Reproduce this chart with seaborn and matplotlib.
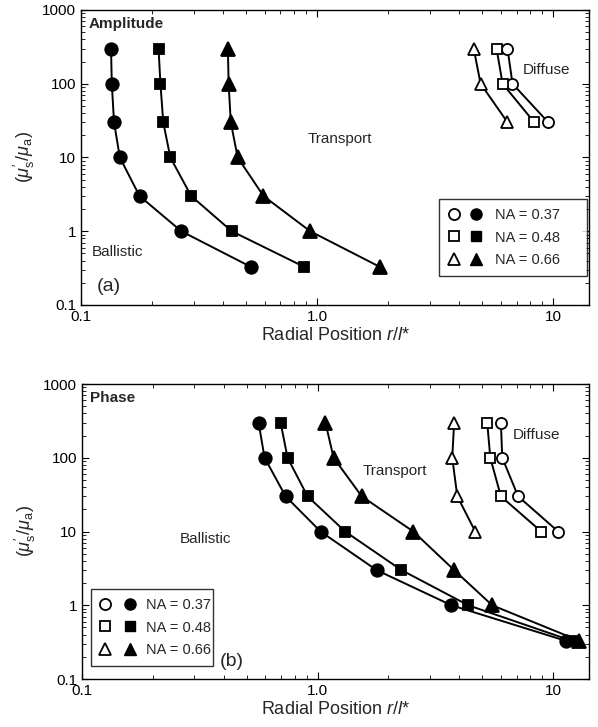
import matplotlib
matplotlib.use("Agg")
import matplotlib.pyplot as plt
import seaborn as sns
import numpy as np
import pandas as pd
from matplotlib.lines import Line2D
from matplotlib.legend_handler import HandlerTuple
from matplotlib.ticker import FixedLocator, FixedFormatter, LogLocator, NullFormatter

sns.set_theme(style="ticks")
plt.rcParams['font.family'] = ['Liberation Sans', 'DejaVu Sans']
plt.rcParams['mathtext.fontset'] = 'custom'
plt.rcParams['mathtext.rm'] = 'Liberation Sans'
plt.rcParams['mathtext.it'] = 'Liberation Sans:italic'

# y values (mu_s'/mu_a)
Y_FULL = [300, 100, 30, 10, 3, 1, 0.33]
Y_AMP_OPEN = [300, 100, 30]
Y_PH_OPEN = [300, 100, 30, 10]
NA_LABELS = ["NA = 0.37", "NA = 0.48", "NA = 0.66"]

# (a) Amplitude - radial position r/l*
amp_filled_037 = [0.134, 0.135, 0.138, 0.146, 0.177, 0.266, 0.523]
amp_filled_048 = [0.213, 0.217, 0.223, 0.239, 0.293, 0.435, 0.88]
amp_filled_066 = [0.419, 0.422, 0.431, 0.461, 0.593, 0.935, 1.84]
amp_open_037 = [6.41, 6.73, 9.53]
amp_open_048 = [5.76, 6.11, 8.32]
amp_open_066 = [4.61, 4.93, 6.41]

# (b) Phase
ph_filled_037 = [0.562, 0.596, 0.732, 1.03, 1.78, 3.70, 11.3]
ph_filled_048 = [0.697, 0.746, 0.907, 1.31, 2.27, 4.36, 12.0]
ph_filled_066 = [1.08, 1.17, 1.54, 2.55, 3.80, 5.51, 12.9]
ph_open_037 = [6.0, 6.08, 7.1, 10.5]
ph_open_048 = [5.25, 5.41, 6.0, 8.9]
ph_open_066 = [3.80, 3.73, 3.92, 4.67]

MARKERS = ['o', 's', '^']
MSIZE = {'o': 9, 's': 7.5, '^': 9.5}


def draw_series(ax, x, y, marker, filled):
    df = pd.DataFrame({'x': x, 'y': y})
    sns.lineplot(data=df, x='x', y='y', ax=ax, sort=False, estimator=None,
                 color='black', linewidth=1.4, marker=marker,
                 markersize=MSIZE[marker] if filled else MSIZE[marker] - 1,
                 markerfacecolor='black' if filled else 'white',
                 markeredgecolor='black', markeredgewidth=1.3)


def style_axes(ax):
    ax.set_xscale('log'); ax.set_yscale('log')
    ax.set_xlim(0.1, 14.2); ax.set_ylim(0.1, 1000)
    ax.xaxis.set_major_locator(FixedLocator([0.1, 1.0, 10]))
    ax.xaxis.set_major_formatter(FixedFormatter(['0.1', '1.0', '10']))
    ax.yaxis.set_major_locator(FixedLocator([0.1, 1, 10, 100, 1000]))
    ax.yaxis.set_major_formatter(FixedFormatter(['0.1', '1', '10', '100', '1000']))
    ax.xaxis.set_minor_locator(LogLocator(base=10, subs=np.arange(2, 10)))
    ax.yaxis.set_minor_locator(LogLocator(base=10, subs=np.arange(2, 10)))
    ax.xaxis.set_minor_formatter(NullFormatter())
    ax.yaxis.set_minor_formatter(NullFormatter())
    ax.tick_params(which='both', direction='in', top=True, right=True, colors='black',
                   labelsize=11)
    ax.tick_params(which='major', length=5, width=0.8)
    ax.tick_params(which='minor', length=3, width=0.6)
    for s in ax.spines.values():
        s.set_color('black'); s.set_linewidth(1.0)
    ax.set_xlabel(r'Radial Position $r$/$l$*', fontsize=13, labelpad=2)
    ax.set_ylabel(r"$(\mu^{\prime}_{\rm s}/\mu_{\rm a})$", fontsize=13, labelpad=4)


def add_legend(ax, bbox, pad):
    handles = []
    for m in MARKERS:
        h_open = Line2D([], [], marker=m, linestyle='none', color='black',
                        markerfacecolor='white', markersize=MSIZE[m] - 1, markeredgewidth=1.3)
        h_fill = Line2D([], [], marker=m, linestyle='none', color='black',
                        markerfacecolor='black', markersize=MSIZE[m] - 1)
        handles.append((h_open, h_fill))
    leg = ax.legend(handles, NA_LABELS, handler_map={tuple: HandlerTuple(ndivide=None, pad=pad)},
                    loc='lower left', bbox_to_anchor=bbox, bbox_transform=ax.transAxes,
                    mode='expand', borderaxespad=0,
                    frameon=True, fancybox=False, edgecolor='black', fontsize=10.5,
                    handlelength=2.4, labelspacing=0.6, borderpad=0.6, handletextpad=0.8)
    leg.get_frame().set_linewidth(1.0)


fig = plt.figure(figsize=(5.98, 7.27), dpi=100)
ax1 = fig.add_axes([0.1355, 0.5805, 0.8495, 0.4058])
ax2 = fig.add_axes([0.137, 0.066, 0.848, 0.4058])

# Panel (a)
for x, m in zip([amp_filled_037, amp_filled_048, amp_filled_066], MARKERS):
    draw_series(ax1, x, Y_FULL, m, True)
for x, m in zip([amp_open_037, amp_open_048, amp_open_066], MARKERS):
    draw_series(ax1, x, Y_AMP_OPEN, m, False)
style_axes(ax1)
ax1.text(0.014, 0.953, 'Amplitude', transform=ax1.transAxes, fontsize=11, fontweight='bold', va='center')
ax1.text(0.022, 0.18, 'Ballistic', transform=ax1.transAxes, fontsize=11, va='center')
ax1.text(0.03, 0.061, '(a)', transform=ax1.transAxes, fontsize=14, va='center')
ax1.text(0.447, 0.563, 'Transport', transform=ax1.transAxes, fontsize=11, va='center')
ax1.text(0.870, 0.797, 'Diffuse', transform=ax1.transAxes, fontsize=11, va='center')
add_legend(ax1, (0.705, 0.098, 0.291, 0.2), 0.6)

# Panel (b)
for x, m in zip([ph_filled_037, ph_filled_048, ph_filled_066], MARKERS):
    draw_series(ax2, x, Y_FULL, m, True)
for x, m in zip([ph_open_037, ph_open_048, ph_open_066], MARKERS):
    draw_series(ax2, x, Y_PH_OPEN, m, False)
style_axes(ax2)
ax2.text(0.016, 0.953, 'Phase', transform=ax2.transAxes, fontsize=11, fontweight='bold', va='center')
ax2.text(0.193, 0.475, 'Ballistic', transform=ax2.transAxes, fontsize=11, va='center')
ax2.text(0.272, 0.058, '(b)', transform=ax2.transAxes, fontsize=14, va='center')
ax2.text(0.554, 0.705, 'Transport', transform=ax2.transAxes, fontsize=11, va='center')
ax2.text(0.85, 0.827, 'Diffuse', transform=ax2.transAxes, fontsize=11, va='center')
add_legend(ax2, (0.018, 0.044, 0.241, 0.2), 1.0)

fig.savefig('out.png', dpi=100)
